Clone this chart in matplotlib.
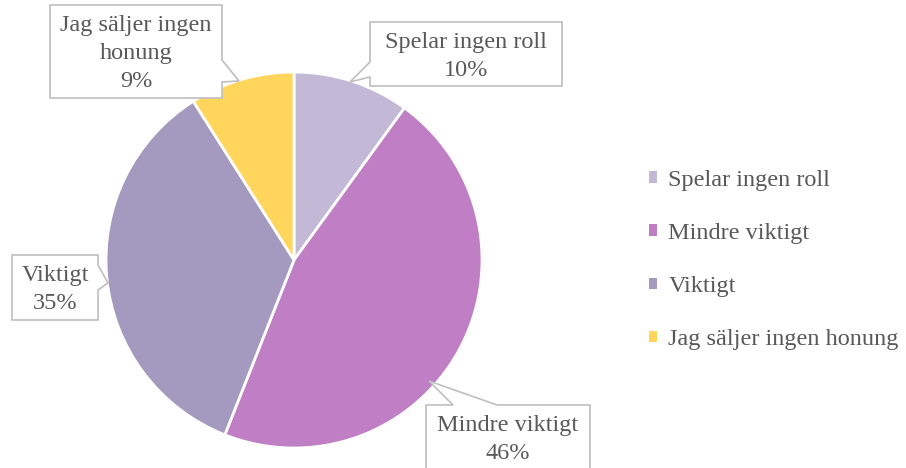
import matplotlib
matplotlib.use("Agg")
import matplotlib.pyplot as plt
from matplotlib.patches import Polygon, Patch

# data
labels = ["Spelar ingen roll", "Mindre viktigt", "Viktigt", "Jag säljer ingen honung"]
values = [10, 46, 35, 9]
colors = ["#C3B9D7", "#C07EC4", "#A499BE", "#FFD65B"]
callout_names = ["Spelar ingen roll", "Mindre viktigt", "Viktigt", "Jag säljer ingen\nhonung"]

W, H = 906, 468
TXT = "#595959"
FONT = "Liberation Serif"
FS = 17.5
LINE_PX = 28.5

# callout layout in pixel coords (top-down y): box x0, y0, x1, y1, side, tail base a, tail base b, apex
callouts = [
    (370, 22, 562, 86, "left", 62, 77, (350, 82)),
    (426, 405, 590, 480, "top", 453, 497, (429, 381)),
    (12, 255, 98, 320, "right", 265, 290, (108, 283)),
    (50, 5, 222, 98, "right", 60, 82, (239, 81)),
]


def fy(y):
    return H - y


def bubble(x0, y0, x1, y1, side, a, b, apex):
    # corners go clockwise starting top-left, tail inserted on its side
    if side == "left":
        pts = [(x0, y0), (x1, y0), (x1, y1), (x0, y1), (x0, b), apex, (x0, a)]
    elif side == "right":
        pts = [(x0, y0), (x1, y0), (x1, a), apex, (x1, b), (x1, y1), (x0, y1)]
    else:
        pts = [(x0, y0), (a, y0), apex, (b, y0), (x1, y0), (x1, y1), (x0, y1)]
    return [(px, fy(py)) for px, py in pts]


def main():
    fig = plt.figure(figsize=(W / 100, H / 100), dpi=100)
    ax = fig.add_axes([0, 0, 1, 1])
    ax.pie(values, colors=colors, startangle=90, counterclock=False,
           center=(294, fy(260)), radius=188,
           wedgeprops=dict(edgecolor="white", linewidth=2))
    ax.set_xlim(0, W)
    ax.set_ylim(0, H)
    ax.set_aspect("equal")
    ax.axis("off")

    for name, v, c in zip(callout_names, values, callouts):
        x0, y0, x1, y1, side, a, b, apex = c
        poly = Polygon(bubble(x0, y0, x1, y1, side, a, b, apex), closed=True,
                       facecolor="white", edgecolor="#BFBFBF", linewidth=1.2,
                       zorder=5, clip_on=False)
        ax.add_patch(poly)
        txt = name + "\n" + str(v) + "%"
        n = txt.count("\n") + 1
        yc = y0 + 20 + (n - 1) * LINE_PX / 2
        ax.text((x0 + x1) / 2, fy(yc), txt, ha="center", va="center",
                fontsize=FS, family=FONT, color=TXT, linespacing=1.42, zorder=6)

    handles = [Patch(facecolor=c, edgecolor="none") for c in colors]
    leg = ax.legend(handles, labels, loc="center left", bbox_to_anchor=(627 / W, 1 - 260 / H),
                    frameon=False, handlelength=0.35, handleheight=0.35, handletextpad=0.45,
                    labelspacing=1.32, prop={"family": FONT, "size": FS})
    for t in leg.get_texts():
        t.set_color(TXT)

    fig.savefig("out.png", dpi=100)


if __name__ == "__main__":
    main()
